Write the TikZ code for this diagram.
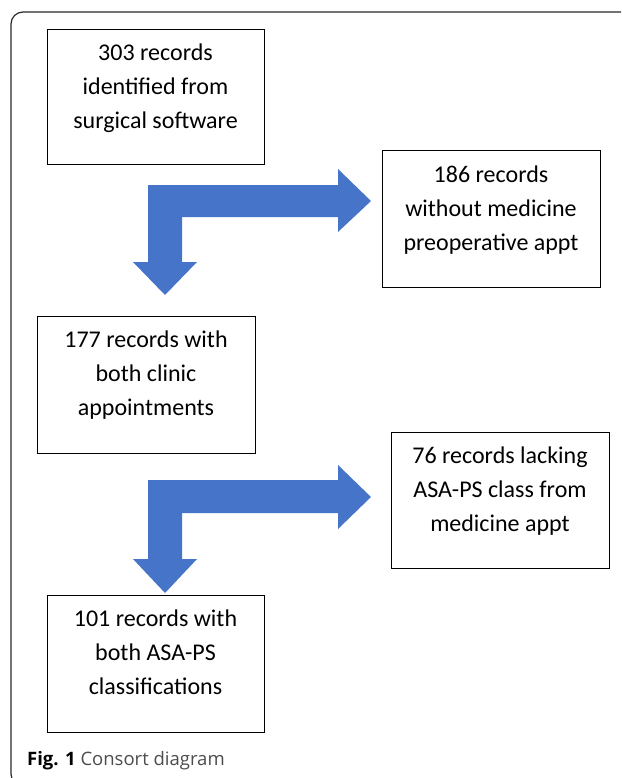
\documentclass[tikz,border=0pt]{standalone}
\usepackage{fontspec}
\setmainfont{Carlito}
\newfontfamily\capfont{Open Sans}
\definecolor{arrowblue}{RGB}{70,116,200}
\definecolor{framegray}{RGB}{40,40,40}
\begin{document}
\begin{tikzpicture}[x=1pt,y=-1pt,
  recbox/.style={draw=black, line width=1pt, inner sep=0pt, outer sep=0pt, anchor=north west},
  rectext/.style={anchor=north, inner sep=0pt, align=center, font=\fontsize{24}{34}\selectfont, yshift=-7pt},
  bigarrow/.style={fill=arrowblue, draw=none}
]
\clip (0,0) rectangle (621,778);
\useasboundingbox (0,0) rectangle (621,778);
% frame
\draw[framegray, line width=1.2pt, rounded corners=12pt] (640,12) -- (11,12) -- (11,786) -- (640,786);

% boxes
\node[recbox, minimum width=217pt, minimum height=135pt] (b1) at (47,30) {};
\node[recbox, minimum width=218pt, minimum height=136pt] (b2) at (382,151) {};
\node[recbox, minimum width=218pt, minimum height=137pt] (b3) at (37,316) {};
\node[recbox, minimum width=218pt, minimum height=136pt] (b4) at (391,432) {};
\node[recbox, minimum width=217pt, minimum height=137pt] (b5) at (47,595) {};

\node[rectext] (t1) at (b1.north) {\strut 303 records\\identified from\\surgical software};
\node[rectext] (t2) at (b2.north) {\strut 186 records\\without medicine\\preoperative appt};
\node[rectext] (t3) at (b3.north) {\strut 177 records with\\both clinic\\appointments};
\node[rectext] (t4) at (b4.north) {\strut 76 records lacking\\ASA-PS class from\\medicine appt};
\node[rectext] (t5) at (b5.north) {\strut 101 records with\\both ASA-PS\\classifications};

% bent arrows
\fill[bigarrow] (148,185) -- (338,185) -- (338,169) -- (371,201) -- (338,232) -- (338,217)
  -- (182,217) -- (182,262) -- (197,262) -- (165,295) -- (133,262) -- (148,262) -- cycle;
\fill[bigarrow] (148,480) -- (338,480) -- (338,465) -- (371,497) -- (338,529) -- (338,513)
  -- (182,513) -- (182,559) -- (197,559) -- (165,593) -- (133,559) -- (148,559) -- cycle;

% caption
\node[anchor=base west, inner sep=0pt, font=\capfont\fontsize{18.5}{22}\selectfont] (cap) at (27,765)
  {\textbf{Fig. 1} \textcolor{black!70}{Consort diagram}};
\end{tikzpicture}
\end{document}
